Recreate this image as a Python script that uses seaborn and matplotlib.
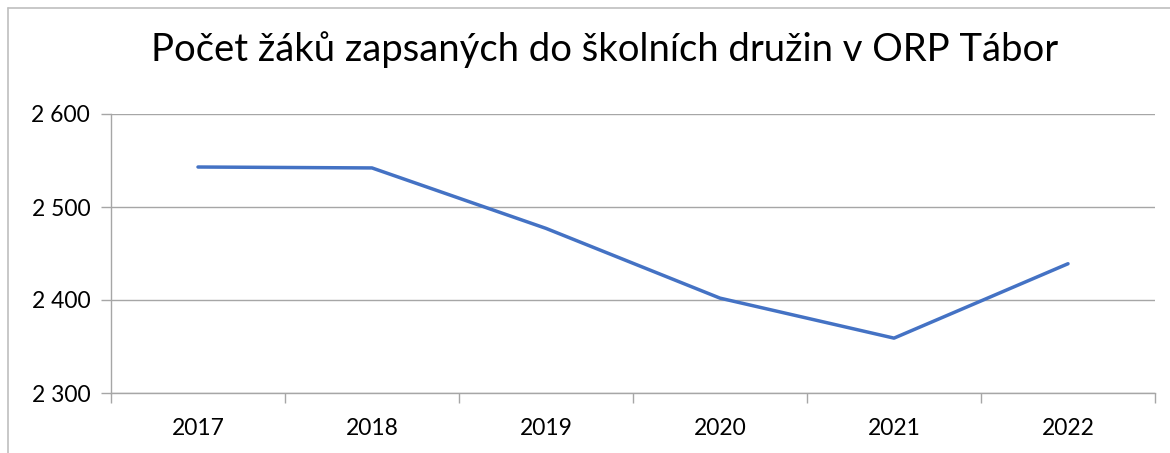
import matplotlib
matplotlib.use("Agg")
import matplotlib.pyplot as plt
import matplotlib.ticker as mticker
from matplotlib.lines import Line2D
import seaborn as sns
import pandas as pd

years = ["2017", "2018", "2019", "2020", "2021", "2022"]
pupils = [2543, 2542, 2477, 2402, 2359, 2439]
title = "Počet žáků zapsaných do školních družin v ORP Tábor"

sns.set_theme(style="white")
plt.rcParams["font.family"] = ["Lato", "DejaVu Sans"]

df = pd.DataFrame({"rok": years, "pocet": pupils})

W, H = 1170, 453
fig = plt.figure(figsize=(W / 100, H / 100), dpi=100)
ax = fig.add_axes([111 / W, 1 - 393 / H, (1155 - 111) / W, (393 - 114) / H])

sns.lineplot(data=df, x="rok", y="pocet", ax=ax, color="#4472C4", linewidth=2.5)

ax.set_xlim(-0.5, 5.5)
ax.set_ylim(2300, 2600)
ax.set_yticks([2300, 2400, 2500, 2600])
ax.yaxis.set_major_formatter(mticker.FuncFormatter(lambda v, p: f"{int(v):,}".replace(",", " ")))
ax.grid(axis="y", color="#A6A6A6", linewidth=1)
ax.set_axisbelow(True)
ax.set_xlabel("")
ax.set_ylabel("")

ax.set_xticks(range(len(years)))
ax.set_xticklabels(years)
ax.set_xticks([i - 0.5 for i in range(len(years) + 1)], minor=True)
ax.tick_params(axis="x", which="major", length=0, pad=18, labelsize=16.5, labelcolor="#000000")
ax.tick_params(axis="x", which="minor", length=7, width=1, color="#A6A6A6", bottom=True)
ax.tick_params(axis="y", which="major", length=7, width=1, color="#A6A6A6", left=True, pad=8,
               labelsize=16.5, labelcolor="#000000")

for s in ["top", "right"]:
    ax.spines[s].set_visible(False)
for s in ["left", "bottom"]:
    ax.spines[s].set_color("#A6A6A6")
    ax.spines[s].set_linewidth(1)

fig.text(605 / W, 1 - 50 / H, title, ha="center", va="center", fontsize=27.5, color="#000000")

# chart border (cropped: left and top visible)
fig.add_artist(Line2D([8 / W, 8 / W], [0, 1 - 8 / H], transform=fig.transFigure, color="#BFBFBF", lw=1.2))
fig.add_artist(Line2D([8 / W, 1], [1 - 8 / H, 1 - 8 / H], transform=fig.transFigure, color="#BFBFBF", lw=1.2))

fig.savefig("out.png", dpi=100)
